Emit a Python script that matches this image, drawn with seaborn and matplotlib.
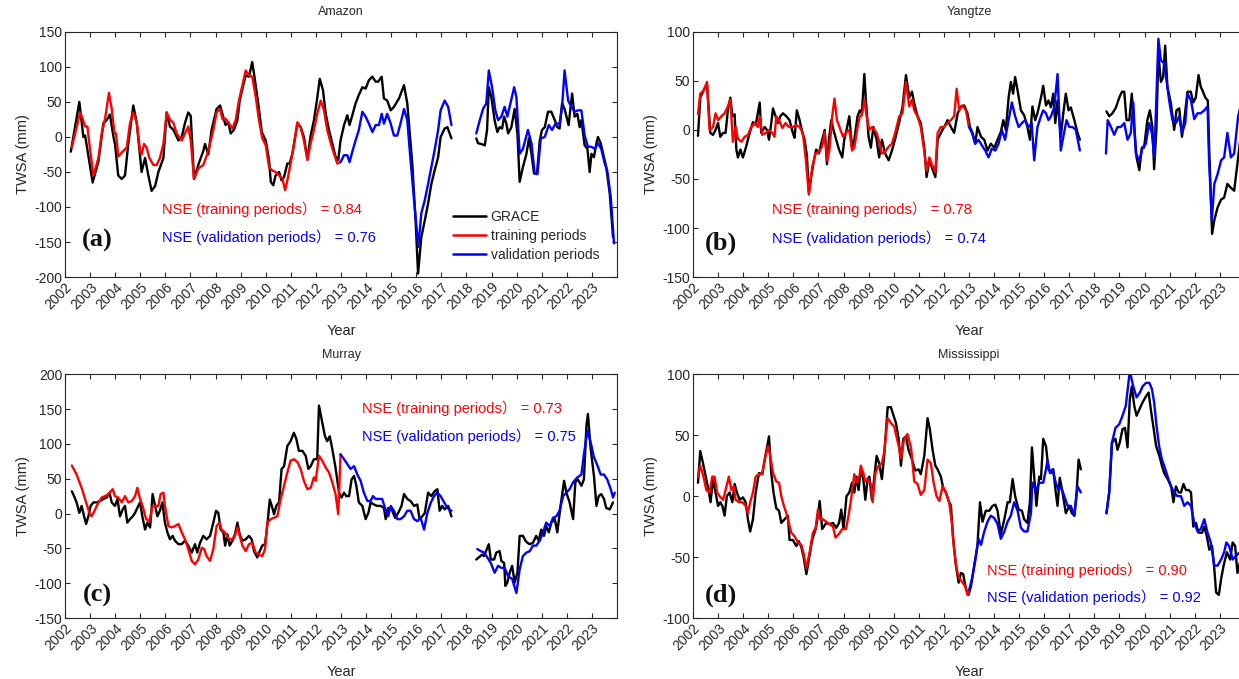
import matplotlib
matplotlib.use("Agg")
import matplotlib.pyplot as plt
from matplotlib.lines import Line2D
import pandas as pd
import seaborn as sns

# ---------------- data: decimal year, TWSA (mm) ----------------
amazon_grace_yr = [2002.23, 2002.57, 2002.73, 2002.80, 2003.10, 2003.33, 2003.53, 2003.66, 2003.79, 2003.93, 2003.99, 2004.12, 2004.26, 2004.39, 2004.52, 2004.72, 2004.86, 2005.05, 2005.19, 2005.32, 2005.45, 2005.59, 2005.72, 2005.92, 2006.05, 2006.18, 2006.32, 2006.52, 2006.65, 2006.78, 2006.91, 2007.01, 2007.14, 2007.31, 2007.51, 2007.58, 2007.71, 2007.84, 2008.04, 2008.18, 2008.34, 2008.40, 2008.51, 2008.60, 2008.73, 2008.87, 2008.96, 2009.07, 2009.20, 2009.33, 2009.46, 2009.57, 2009.70, 2009.84, 2010.00, 2010.13, 2010.20, 2010.30, 2010.39, 2010.53, 2010.63, 2010.73, 2010.86, 2010.95, 2011.06, 2011.26, 2011.39, 2011.52, 2011.66, 2011.79, 2011.92, 2012.05, 2012.15, 2012.28, 2012.39, 2012.52, 2012.65, 2012.78, 2012.89, 2012.98, 2013.12, 2013.25, 2013.34, 2013.45, 2013.58, 2013.71, 2013.85, 2013.98, 2014.11, 2014.25, 2014.38, 2014.48, 2014.62, 2014.71, 2014.84, 2014.98, 2015.11, 2015.31, 2015.51, 2015.64, 2015.84, 2015.97, 2016.07, 2016.20, 2016.34, 2016.47, 2016.60, 2016.73, 2016.87, 2016.97, 2017.13, 2017.24, 2017.40,
                   2018.39, 2018.46, 2018.59, 2018.73, 2018.82, 2018.89, 2018.99, 2019.12, 2019.23, 2019.32, 2019.42, 2019.50, 2019.59, 2019.66, 2019.79, 2019.92, 2020.03, 2020.12, 2020.25, 2020.39, 2020.49, 2020.59, 2020.69, 2020.81, 2020.92, 2021.01, 2021.12, 2021.25, 2021.38, 2021.52, 2021.62, 2021.71, 2021.81, 2021.91, 2022.07, 2022.21, 2022.31, 2022.42, 2022.51, 2022.58, 2022.71, 2022.82, 2022.91, 2022.98, 2023.08, 2023.18, 2023.24, 2023.35, 2023.48, 2023.57, 2023.71, 2023.84]
amazon_grace_mm = [-21, 50, 0, 2, -65, -35, 20, 24, 32, 0, -10, -55, -60, -55, -10, 45, 20, -50, -30, -55, -77, -70, -50, -30, 35, 15, 10, -5, 0, 20, 35, 30, -60, -40, -20, -10, -25, 10, 40, 45, 24, 17, 21, 5, 10, 24, 52, 69, 88, 86, 107, 81, 48, 7, -5, -33, -64, -69, -55, -50, -62, -57, -38, -38, -24, 19, 14, 0, -31, 2, 24, 55, 83, 67, 33, 10, -9, -28, -33, -5, 17, 31, 17, 31, 48, 60, 71, 69, 81, 86, 79, 79, 86, 55, 52, 38, 43, 55, 74, 48, -38, -119, -195, -143, -119, -95, -67, -48, -29, 0, 12, 14, -2,
                   -2, -9, -10, -12, 10, 71, 57, 24, 7, 14, 12, 29, 19, 5, 14, 40, 5, -64, -43, -24, -2, -24, -52, -53, -5, 10, 14, 36, 36, 24, 14, 12, 48, 40, 17, 62, 29, 33, 14, 24, -12, -17, -50, -24, -29, -9, 0, -9, -29, -43, -81, -143]
amazon_train_yr = [2002.27, 2002.60, 2002.66, 2002.80, 2002.89, 2002.97, 2003.13, 2003.33, 2003.46, 2003.59, 2003.75, 2003.86, 2003.97, 2004.03, 2004.12, 2004.32, 2004.46, 2004.59, 2004.72, 2004.86, 2004.99, 2005.05, 2005.15, 2005.25, 2005.36, 2005.52, 2005.65, 2005.78, 2005.92, 2006.05, 2006.18, 2006.32, 2006.45, 2006.65, 2006.78, 2006.91, 2007.01, 2007.14, 2007.31, 2007.51, 2007.71, 2007.91, 2008.04, 2008.18, 2008.28, 2008.40, 2008.54, 2008.67, 2008.80, 2008.93, 2009.07, 2009.20, 2009.33, 2009.46, 2009.60, 2009.73, 2009.86, 2010.00, 2010.13, 2010.26, 2010.39, 2010.53, 2010.66, 2010.77, 2010.86, 2010.99, 2011.12, 2011.26, 2011.39, 2011.52, 2011.66, 2011.79, 2011.92, 2012.05, 2012.19, 2012.32, 2012.45, 2012.59, 2012.72, 2012.85, 2012.96]
amazon_train_mm = [-15, 35, 30, 15, 15, -10, -55, -30, 5, 25, 63, 40, 5, 5, -28, -20, -15, 20, 35, 20, -20, -25, -10, -15, -30, -40, -40, -30, -10, 35, 25, 20, 5, -5, 5, 15, -5, -60, -45, -40, -20, 10, 35, 40, 25, 26, 19, 12, 24, 52, 74, 95, 88, 86, 57, 24, -2, -12, -43, -48, -50, -55, -59, -76, -62, -38, -12, 21, 14, -5, -33, -9, 10, 33, 52, 38, 10, -9, -24, -38, -36]
amazon_valid_yr = [2012.98, 2013.12, 2013.25, 2013.34, 2013.45, 2013.58, 2013.71, 2013.85, 2013.98, 2014.11, 2014.25, 2014.38, 2014.51, 2014.62, 2014.71, 2014.84, 2014.98, 2015.11, 2015.24, 2015.37, 2015.51, 2015.64, 2015.77, 2015.91, 2016.08, 2016.20, 2016.34, 2016.47, 2016.60, 2016.73, 2016.87, 2016.97, 2017.13, 2017.27, 2017.40,
                   2018.39, 2018.53, 2018.66, 2018.79, 2018.89, 2019.02, 2019.15, 2019.26, 2019.39, 2019.52, 2019.63, 2019.72, 2019.90, 2019.99, 2020.12, 2020.25, 2020.45, 2020.59, 2020.72, 2020.83, 2020.96, 2021.12, 2021.28, 2021.41, 2021.55, 2021.71, 2021.81, 2021.91, 2022.05, 2022.18, 2022.31, 2022.44, 2022.58, 2022.71, 2022.84, 2022.98, 2023.11, 2023.24, 2023.37, 2023.51, 2023.61, 2023.75, 2023.88]
amazon_valid_mm = [-36, -26, -26, -36, -21, -5, 10, 36, 29, 19, 7, 17, 17, 33, 19, 33, 19, 2, 2, 19, 40, 24, -33, -90, -157, -109, -90, -67, -43, -19, 10, 38, 52, 43, 17,
                   5, 24, 40, 48, 95, 71, 38, 24, 29, 43, 29, 43, 71, 57, -24, -17, 10, -9, -52, -53, -2, 0, 17, 10, 19, 19, 43, 95, 52, 43, 36, 38, 38, 2, -14, -14, -17, -9, -17, -38, -48, -86, -152]

yangtze_grace_yr = [2002.20, 2002.29, 2002.42, 2002.56, 2002.69, 2002.80, 2002.90, 2003.00, 2003.09, 2003.20, 2003.30, 2003.39, 2003.49, 2003.57, 2003.66, 2003.73, 2003.79, 2003.89, 2003.99, 2004.12, 2004.26, 2004.39, 2004.50, 2004.66, 2004.72, 2004.86, 2004.95, 2005.03, 2005.12, 2005.19, 2005.29, 2005.39, 2005.48, 2005.59, 2005.72, 2005.85, 2005.98, 2006.05, 2006.14, 2006.25, 2006.36, 2006.45, 2006.54, 2006.62, 2006.71, 2006.82, 2006.91, 2007.02, 2007.11, 2007.25, 2007.34, 2007.42, 2007.51, 2007.60, 2007.71, 2007.82, 2007.95, 2008.03, 2008.12, 2008.23, 2008.34, 2008.43, 2008.56, 2008.65, 2008.73, 2008.83, 2008.89, 2009.00, 2009.09, 2009.19, 2009.32, 2009.42, 2009.53, 2009.66, 2009.80, 2009.93, 2010.06, 2010.22, 2010.35, 2010.49, 2010.62, 2010.73, 2010.82, 2010.95, 2011.08, 2011.22, 2011.31, 2011.42, 2011.52, 2011.66, 2011.75, 2011.88, 2012.01, 2012.15, 2012.28, 2012.41, 2012.55, 2012.68, 2012.81, 2012.94, 2013.04, 2013.14, 2013.25, 2013.34, 2013.48, 2013.61, 2013.74, 2013.87, 2014.01, 2014.14, 2014.27, 2014.37, 2014.47, 2014.58, 2014.67, 2014.76, 2014.84, 2014.94, 2015.07, 2015.20, 2015.33, 2015.43, 2015.53, 2015.64, 2015.73, 2015.87, 2015.96, 2016.07, 2016.17, 2016.27, 2016.36, 2016.44, 2016.53, 2016.66, 2016.76, 2016.86, 2016.97, 2017.06, 2017.20, 2017.33, 2017.42,
                    2018.48, 2018.59, 2018.72, 2018.86, 2018.99, 2019.10, 2019.19, 2019.28, 2019.39, 2019.49, 2019.59, 2019.68, 2019.79, 2019.89, 2019.98, 2020.11, 2020.21, 2020.31, 2020.38, 2020.47, 2020.55, 2020.65, 2020.74, 2020.82, 2020.91, 2021.05, 2021.18, 2021.27, 2021.38, 2021.49, 2021.58, 2021.71, 2021.84, 2021.94, 2022.04, 2022.15, 2022.24, 2022.31, 2022.42, 2022.52, 2022.58, 2022.69, 2022.78, 2022.91, 2023.05, 2023.17, 2023.30, 2023.44, 2023.57, 2023.73, 2023.88]
yangtze_grace_mm = [-6, 33, 40, 47, -3, -5, 0, 7, -7, -3, -3, 20, 33, 14, 16, -20, -28, -20, -28, -17, -3, 8, 5, 28, -3, 3, 0, -10, 7, 22, 14, 7, 14, 17, 14, 10, -3, -8, 20, 10, -3, -10, -26, -64, -48, -31, -20, -24, -14, 0, -35, -10, 10, 0, -10, -20, -28, -10, 0, 14, -18, -10, 14, 20, 17, 57, 31, -7, -18, 3, -10, -28, -10, -24, -31, -21, -9, 8, 23, 56, 33, 39, 27, 14, 7, -18, -48, -31, -38, -48, -10, -3, 3, 10, 3, -3, 17, 24, 25, 17, 3, -3, -14, 3, -7, -10, -21, -14, -18, -10, -2, 10, 0, 33, 49, 37, 54, 40, 20, 15, 3, -10, 24, 10, 17, 33, 45, 25, 30, 23, 37, 7, 30, -7, 17, 37, 20, 23, 10, -3, -10,
                    19, 14, 17, 23, 33, 39, 39, 10, 10, 37, 0, -28, -41, -18, -18, 10, 20, 3, -40, 0, 78, 49, 54, 86, 44, 27, 0, 20, 22, -7, 10, 39, 39, 28, 33, 56, 44, 40, 33, 30, -24, -106, -92, -79, -71, -69, -55, -59, -62, -28, 5]
yangtze_train_yr = [2002.20, 2002.29, 2002.42, 2002.56, 2002.66, 2002.80, 2002.90, 2003.00, 2003.13, 2003.26, 2003.39, 2003.49, 2003.59, 2003.70, 2003.79, 2003.93, 2004.06, 2004.19, 2004.32, 2004.46, 2004.59, 2004.66, 2004.76, 2004.90, 2005.03, 2005.16, 2005.25, 2005.32, 2005.43, 2005.56, 2005.69, 2005.82, 2005.98, 2006.12, 2006.25, 2006.38, 2006.49, 2006.62, 2006.75, 2006.89, 2007.02, 2007.15, 2007.25, 2007.35, 2007.44, 2007.55, 2007.64, 2007.74, 2007.84, 2007.98, 2008.03, 2008.12, 2008.23, 2008.34, 2008.43, 2008.56, 2008.65, 2008.73, 2008.84, 2008.92, 2009.03, 2009.13, 2009.23, 2009.32, 2009.42, 2009.53, 2009.66, 2009.80, 2009.93, 2010.06, 2010.22, 2010.35, 2010.49, 2010.62, 2010.73, 2010.82, 2010.95, 2011.08, 2011.22, 2011.31, 2011.42, 2011.52, 2011.66, 2011.75, 2011.88, 2012.01, 2012.15, 2012.28, 2012.41, 2012.51, 2012.61, 2012.74, 2012.88, 2013.00]
yangtze_train_mm = [16, 37, 40, 49, 0, 3, 17, 10, 14, 17, 24, 31, -12, 3, -9, -12, -7, -5, 3, 7, 3, 14, -5, -3, 0, -3, -7, 14, 10, 2, 7, 3, 3, 5, 3, -3, -28, -66, -38, -24, -22, -17, -2, -31, -20, 14, 32, 10, 3, -7, -5, -2, 0, -21, -18, 3, 14, 15, 31, 14, 0, 3, 0, -3, -12, -24, -22, -17, -14, -3, 14, 17, 49, 24, 31, 20, 14, 3, -22, -42, -28, -35, -43, -3, 3, 3, 7, 10, 14, 42, 20, 25, 20, 3]
yangtze_valid_yr = [2013.00, 2013.12, 2013.25, 2013.38, 2013.52, 2013.65, 2013.78, 2013.91, 2014.05, 2014.18, 2014.31, 2014.44, 2014.58, 2014.71, 2014.84, 2014.98, 2015.11, 2015.24, 2015.37, 2015.50, 2015.60, 2015.73, 2015.87, 2015.96, 2016.07, 2016.17, 2016.27, 2016.40, 2016.53, 2016.66, 2016.76, 2016.89, 2017.00, 2017.13, 2017.26, 2017.42,
                    2018.46, 2018.53, 2018.66, 2018.79, 2018.92, 2019.05, 2019.19, 2019.32, 2019.45, 2019.55, 2019.65, 2019.79, 2019.92, 2020.05, 2020.18, 2020.29, 2020.39, 2020.47, 2020.55, 2020.65, 2020.78, 2020.87, 2020.98, 2021.11, 2021.25, 2021.38, 2021.49, 2021.62, 2021.71, 2021.85, 2021.98, 2022.11, 2022.24, 2022.38, 2022.51, 2022.57, 2022.68, 2022.78, 2022.91, 2023.05, 2023.17, 2023.30, 2023.44, 2023.57, 2023.73, 2023.88]
yangtze_valid_mm = [3, -3, -14, -10, -16, -21, -28, -19, -21, -14, 0, -10, 10, 28, 14, 3, 7, 10, 3, 7, -31, 3, 14, 20, 17, 10, 14, 23, 57, -21, -7, 10, 3, 3, 0, -21,
                    -24, 10, 3, -5, 3, 3, 7, -10, -3, 28, -24, -31, -18, -14, 7, -3, -28, 33, 93, 71, 68, 51, 30, 10, 7, 14, -3, 7, 37, 30, 11, 17, 17, 20, 24, -31, -92, -55, -45, -31, -28, -3, -28, -24, 14, 30]

murray_grace_yr = [2002.27, 2002.36, 2002.46, 2002.57, 2002.66, 2002.76, 2002.84, 2002.93, 2003.02, 2003.13, 2003.26, 2003.39, 2003.53, 2003.66, 2003.77, 2003.86, 2003.99, 2004.09, 2004.19, 2004.30, 2004.39, 2004.48, 2004.59, 2004.70, 2004.79, 2004.88, 2004.99, 2005.09, 2005.19, 2005.28, 2005.39, 2005.49, 2005.59, 2005.68, 2005.78, 2005.88, 2005.98, 2006.08, 2006.18, 2006.29, 2006.38, 2006.52, 2006.65, 2006.78, 2006.91, 2007.05, 2007.18, 2007.27, 2007.38, 2007.51, 2007.64, 2007.78, 2007.91, 2008.02, 2008.11, 2008.20, 2008.31, 2008.38, 2008.47, 2008.56, 2008.67, 2008.77, 2008.87, 2008.96, 2009.07, 2009.20, 2009.33, 2009.44, 2009.53, 2009.66, 2009.76, 2009.86, 2009.97, 2010.06, 2010.16, 2010.24, 2010.33, 2010.42, 2010.53, 2010.63, 2010.73, 2010.86, 2010.99, 2011.12, 2011.22, 2011.32, 2011.46, 2011.59, 2011.70, 2011.79, 2011.92, 2012.05, 2012.12, 2012.23, 2012.36, 2012.45, 2012.55, 2012.65, 2012.78, 2012.92, 2013.02, 2013.12, 2013.21, 2013.32, 2013.42, 2013.52, 2013.61, 2013.71, 2013.85, 2013.98, 2014.09, 2014.18, 2014.31, 2014.44, 2014.58, 2014.71, 2014.78, 2014.88, 2015.02, 2015.15, 2015.28, 2015.41, 2015.51, 2015.64, 2015.77, 2015.91, 2016.04, 2016.13, 2016.24, 2016.34, 2016.47, 2016.60, 2016.73, 2016.84, 2016.93, 2017.03, 2017.13, 2017.27, 2017.40,
                   2018.39, 2018.49, 2018.62, 2018.70, 2018.89, 2018.97, 2019.10, 2019.19, 2019.32, 2019.39, 2019.50, 2019.55, 2019.63, 2019.72, 2019.82, 2019.92, 2020.03, 2020.12, 2020.25, 2020.35, 2020.43, 2020.52, 2020.65, 2020.78, 2020.88, 2020.98, 2021.09, 2021.18, 2021.28, 2021.38, 2021.52, 2021.62, 2021.75, 2021.89, 2021.98, 2022.11, 2022.25, 2022.34, 2022.44, 2022.58, 2022.68, 2022.78, 2022.84, 2022.95, 2023.08, 2023.18, 2023.27, 2023.37, 2023.48, 2023.57, 2023.71, 2023.84]
murray_grace_mm = [32, 25, 16, 1, 11, -4, -15, -4, 11, 16, 16, 18, 21, 23, 30, 16, 11, 21, -4, 6, 11, -13, -8, -4, 1, 8, 16, -6, -23, -13, -20, 28, 11, -4, 4, 16, -13, -27, -37, -32, -39, -44, -44, -39, -46, -56, -44, -56, -42, -32, -37, -32, -13, 4, 1, -23, -27, -46, -30, -46, -39, -30, -13, -30, -39, -37, -32, -37, -54, -63, -54, -46, -44, -18, 20, 11, -1, 11, 16, 64, 68, 97, 104, 116, 107, 90, 90, 83, 64, 68, 78, 78, 155, 135, 111, 104, 111, 93, 66, 30, 23, 30, 25, 25, 49, 54, 40, 16, 11, -8, 1, 16, 13, 11, 11, 8, -8, 8, 6, -6, 1, 11, 28, 21, 18, 11, 13, -8, -4, 1, 30, 25, 32, 35, 4, 11, 6, 11, -4,
                   -66, -63, -59, -61, -44, -66, -66, -56, -54, -68, -71, -104, -99, -85, -75, -99, -85, -32, -32, -39, -42, -44, -42, -32, -39, -23, -32, -18, -27, -13, -8, -27, 11, 47, 30, 16, -8, 45, 49, 40, 49, 126, 143, 93, 54, 11, 25, 28, 21, 8, 6, 16]
murray_train_yr = [2002.27, 2002.46, 2002.66, 2002.84, 2002.97, 2003.06, 2003.20, 2003.33, 2003.46, 2003.59, 2003.73, 2003.90, 2003.99, 2004.12, 2004.26, 2004.39, 2004.52, 2004.66, 2004.79, 2004.88, 2004.99, 2005.09, 2005.23, 2005.36, 2005.49, 2005.59, 2005.72, 2005.81, 2005.92, 2005.98, 2006.12, 2006.25, 2006.38, 2006.52, 2006.65, 2006.78, 2006.91, 2007.05, 2007.18, 2007.31, 2007.45, 2007.54, 2007.64, 2007.78, 2007.91, 2008.04, 2008.15, 2008.24, 2008.37, 2008.54, 2008.67, 2008.77, 2008.87, 2008.96, 2009.07, 2009.20, 2009.33, 2009.46, 2009.60, 2009.73, 2009.86, 2009.97, 2010.06, 2010.20, 2010.33, 2010.46, 2010.59, 2010.73, 2010.86, 2010.99, 2011.12, 2011.26, 2011.39, 2011.52, 2011.66, 2011.79, 2011.92, 2011.99, 2012.12, 2012.25, 2012.39, 2012.52, 2012.65, 2012.78, 2012.89, 2012.98]
murray_train_mm = [69, 56, 37, 16, 1, -4, 6, 16, 23, 25, 28, 35, 25, 23, 16, 25, 16, 18, 25, 37, 21, 11, -8, -11, 11, 11, 11, 28, 30, 11, -18, -20, -18, -15, -27, -37, -51, -68, -73, -66, -49, -51, -61, -68, -51, -18, -13, -23, -27, -37, -37, -32, -20, -32, -46, -54, -44, -42, -56, -59, -61, -51, -13, -8, -6, -4, 20, 40, 59, 76, 78, 74, 64, 47, 35, 37, 52, 47, 83, 76, 66, 59, 45, 28, -1, 85]
murray_valid_yr = [2012.98, 2013.12, 2013.25, 2013.38, 2013.52, 2013.65, 2013.78, 2013.91, 2014.05, 2014.18, 2014.27, 2014.38, 2014.51, 2014.64, 2014.75, 2014.88, 2014.98, 2015.11, 2015.24, 2015.37, 2015.51, 2015.64, 2015.77, 2015.91, 2016.04, 2016.17, 2016.31, 2016.44, 2016.58, 2016.71, 2016.84, 2016.97, 2017.11, 2017.24, 2017.40,
                   2018.43, 2018.57, 2018.70, 2018.83, 2018.97, 2019.12, 2019.26, 2019.39, 2019.52, 2019.66, 2019.82, 2019.99, 2020.12, 2020.25, 2020.39, 2020.52, 2020.65, 2020.78, 2020.92, 2021.05, 2021.18, 2021.32, 2021.45, 2021.58, 2021.71, 2021.85, 2021.98, 2022.11, 2022.25, 2022.42, 2022.58, 2022.68, 2022.82, 2022.95, 2023.08, 2023.22, 2023.35, 2023.48, 2023.61, 2023.75, 2023.84, 2023.91]
murray_valid_mm = [85, 78, 71, 64, 68, 56, 47, 30, 18, 18, 25, 21, 21, 21, 8, -4, 11, 4, -8, -8, -4, 4, 4, -8, -11, -6, -23, 1, 16, 25, 30, 25, 16, 8, 4,
                   -51, -54, -56, -63, -71, -85, -75, -78, -78, -90, -94, -114, -80, -61, -56, -54, -46, -46, -39, -27, -13, -18, -6, -4, 4, 25, 30, 35, 45, 52, 56, 85, 119, 102, 81, 69, 56, 56, 49, 35, 23, 30]

mississippi_grace_yr = [2002.20, 2002.29, 2002.40, 2002.53, 2002.64, 2002.70, 2002.80, 2002.90, 2003.00, 2003.09, 2003.17, 2003.26, 2003.35, 2003.46, 2003.57, 2003.66, 2003.75, 2003.86, 2003.99, 2004.10, 2004.19, 2004.28, 2004.39, 2004.50, 2004.63, 2004.76, 2004.86, 2004.95, 2005.03, 2005.12, 2005.21, 2005.32, 2005.43, 2005.52, 2005.65, 2005.78, 2005.85, 2005.98, 2006.12, 2006.22, 2006.32, 2006.41, 2006.52, 2006.62, 2006.75, 2006.89, 2006.98, 2007.05, 2007.15, 2007.31, 2007.44, 2007.58, 2007.71, 2007.82, 2007.91, 2008.00, 2008.12, 2008.23, 2008.34, 2008.43, 2008.52, 2008.60, 2008.69, 2008.79, 2008.87, 2008.96, 2009.03, 2009.13, 2009.23, 2009.32, 2009.42, 2009.53, 2009.62, 2009.76, 2009.89, 2009.98, 2010.09, 2010.20, 2010.29, 2010.38, 2010.49, 2010.59, 2010.73, 2010.86, 2010.99, 2011.08, 2011.22, 2011.35, 2011.44, 2011.55, 2011.66, 2011.75, 2011.88, 2011.97, 2012.08, 2012.19, 2012.28, 2012.37, 2012.48, 2012.59, 2012.68, 2012.77, 2012.88, 2012.98, 2013.08, 2013.21, 2013.34, 2013.44, 2013.54, 2013.67, 2013.81, 2013.94, 2014.05, 2014.14, 2014.27, 2014.41, 2014.54, 2014.63, 2014.74, 2014.84, 2014.98, 2015.11, 2015.20, 2015.33, 2015.43, 2015.51, 2015.60, 2015.69, 2015.80, 2015.87, 2015.96, 2016.07, 2016.17, 2016.27, 2016.36, 2016.46, 2016.53, 2016.62, 2016.73, 2016.86, 2017.00, 2017.10, 2017.20, 2017.29, 2017.37, 2017.46,
                        2018.48, 2018.59, 2018.70, 2018.84, 2018.92, 2019.01, 2019.12, 2019.22, 2019.32, 2019.41, 2019.49, 2019.59, 2019.68, 2019.79, 2019.92, 2020.06, 2020.16, 2020.25, 2020.35, 2020.46, 2020.59, 2020.69, 2020.78, 2020.92, 2021.06, 2021.15, 2021.25, 2021.36, 2021.45, 2021.55, 2021.65, 2021.76, 2021.85, 2021.94, 2022.05, 2022.15, 2022.29, 2022.38, 2022.48, 2022.58, 2022.69, 2022.78, 2022.85, 2022.96, 2023.05, 2023.15, 2023.28, 2023.41, 2023.51, 2023.61, 2023.70, 2023.85]
mississippi_grace_mm = [11, 37, 27, 14, 3, -5, 14, 3, -8, -5, -8, -16, 0, 3, -5, 10, 3, -3, -1, -5, -19, -29, -19, 3, 19, 18, 30, 40, 49, 19, 3, -10, -12, -22, -19, -16, -36, -36, -41, -37, -42, -50, -64, -52, -36, -27, -16, -4, -27, -22, -23, -22, -26, -22, -11, -27, 0, 3, 11, 3, 16, 5, 22, 14, -3, 14, 16, -3, 16, 33, 27, 14, 33, 73, 73, 67, 60, 47, 25, 47, 49, 38, 30, 21, 22, 18, 33, 64, 55, 38, 25, 22, 16, 7, 3, -4, -8, -35, -57, -71, -63, -64, -76, -81, -74, -57, -40, -5, -21, -12, -12, -8, -7, -12, -31, -19, -5, -5, 14, 0, -11, -12, -19, -22, -5, 40, 16, -8, 16, 14, 47, 41, 22, 19, 22, 3, -8, 15, 3, -14, -8, -14, -16, 3, 30, 22,
                        -14, 3, 44, 47, 38, 44, 55, 56, 40, 79, 90, 74, 66, 71, 77, 82, 85, 71, 57, 41, 33, 25, 19, 14, 8, -5, 8, 3, 3, 10, 5, 5, 3, -25, -22, -30, -30, -25, -33, -44, -41, -60, -79, -81, -68, -57, -46, -52, -38, -41, -63, -50]
mississippi_train_yr = [2002.20, 2002.29, 2002.42, 2002.53, 2002.66, 2002.77, 2002.86, 2002.96, 2003.06, 2003.20, 2003.30, 2003.43, 2003.53, 2003.62, 2003.70, 2003.83, 2003.97, 2004.10, 2004.19, 2004.28, 2004.39, 2004.50, 2004.63, 2004.76, 2004.86, 2004.99, 2005.08, 2005.19, 2005.32, 2005.43, 2005.52, 2005.61, 2005.72, 2005.82, 2005.92, 2006.05, 2006.18, 2006.32, 2006.41, 2006.52, 2006.65, 2006.78, 2006.89, 2006.98, 2007.07, 2007.18, 2007.31, 2007.44, 2007.58, 2007.68, 2007.82, 2007.95, 2008.10, 2008.20, 2008.30, 2008.43, 2008.52, 2008.63, 2008.69, 2008.79, 2008.87, 2008.96, 2009.09, 2009.16, 2009.27, 2009.40, 2009.53, 2009.62, 2009.76, 2009.89, 2010.02, 2010.20, 2010.29, 2010.42, 2010.55, 2010.69, 2010.82, 2010.95, 2011.08, 2011.22, 2011.35, 2011.48, 2011.59, 2011.71, 2011.82, 2011.95, 2012.08, 2012.21, 2012.32, 2012.41, 2012.51, 2012.61, 2012.71, 2012.85, 2012.94, 2013.01]
mississippi_train_mm = [16, 25, 16, 5, 3, 16, 16, 3, 0, -3, 5, 16, 5, 8, -3, -5, -5, -8, -14, -5, 3, 16, 18, 18, 30, 41, 33, 19, 12, 11, 0, -7, -14, -22, -30, -33, -38, -40, -47, -59, -46, -30, -26, -11, -19, -19, -21, -23, -25, -34, -31, -27, -27, -16, -3, 18, 11, 16, 25, 19, 12, 14, 10, -5, 19, 25, 27, 36, 64, 60, 57, 41, 31, 47, 51, 40, 12, 10, 1, 5, 30, 27, 11, 0, -4, 8, 3, -5, -22, -44, -60, -67, -70, -74, -81, -77]
mississippi_valid_yr = [2013.01, 2013.14, 2013.28, 2013.38, 2013.48, 2013.61, 2013.74, 2013.87, 2014.01, 2014.14, 2014.27, 2014.41, 2014.54, 2014.67, 2014.80, 2014.94, 2015.07, 2015.20, 2015.33, 2015.47, 2015.53, 2015.67, 2015.80, 2015.96, 2016.07, 2016.13, 2016.23, 2016.33, 2016.46, 2016.57, 2016.66, 2016.80, 2016.93, 2017.06, 2017.20, 2017.33, 2017.46,
                        2018.48, 2018.59, 2018.70, 2018.84, 2018.99, 2019.12, 2019.25, 2019.39, 2019.45, 2019.55, 2019.68, 2019.81, 2019.92, 2020.06, 2020.19, 2020.29, 2020.38, 2020.48, 2020.58, 2020.69, 2020.78, 2020.92, 2021.05, 2021.18, 2021.31, 2021.45, 2021.58, 2021.71, 2021.85, 2021.98, 2022.11, 2022.24, 2022.38, 2022.51, 2022.64, 2022.78, 2022.91, 2023.05, 2023.17, 2023.26, 2023.37, 2023.51, 2023.64, 2023.85]
mississippi_valid_mm = [-77, -66, -49, -35, -40, -29, -21, -16, -18, -23, -35, -29, -21, -16, -5, -12, -26, -29, -29, -14, 11, 5, 11, 11, 22, 29, 19, 22, 11, 5, 8, 0, -8, -8, -16, 8, 3,
                        -14, 3, 44, 56, 59, 66, 74, 99, 99, 90, 81, 85, 90, 93, 93, 88, 77, 57, 41, 30, 25, 16, 8, 3, 0, 0, -8, -5, -8, -22, -29, -27, -19, -30, -38, -57, -57, -52, -46, -38, -41, -52, -49, -45]

SERIES = ["GRACE", "training periods", "validation periods"]
PALETTE = {"GRACE": "#000000", "training periods": "#ff0000", "validation periods": "#0000ff"}
INK = "#262626"
CJK_FALLBACK = ["Liberation Sans", "Noto Sans CJK SC"]


def long_frame(grace_yr, grace_mm, train_yr, train_mm, valid_yr, valid_mm):
    """Tidy table; 'segment' splits each series at the 2017-2018 data gap."""
    rows = []
    for name, yrs, vals in ((SERIES[0], grace_yr, grace_mm),
                            (SERIES[1], train_yr, train_mm),
                            (SERIES[2], valid_yr, valid_mm)):
        for yr, mm in zip(yrs, vals):
            rows.append((yr, mm, name, int(yr > 2018)))
    return pd.DataFrame(rows, columns=["year", "twsa", "series", "segment"])


panels = [
    dict(title="Amazon", rect=[0.0525, 0.592, 0.4455, 0.361],
         df=long_frame(amazon_grace_yr, amazon_grace_mm, amazon_train_yr, amazon_train_mm, amazon_valid_yr, amazon_valid_mm),
         ylim=(-200, 150), letter="(a)", letter_xy=(0.058, 0.15),
         nse=("0.84", "0.76"), nse_xy=(0.176, 0.278, 0.163), legend=True),
    dict(title="Yangtze", rect=[0.5593, 0.592, 0.4455, 0.361],
         df=long_frame(yangtze_grace_yr, yangtze_grace_mm, yangtze_train_yr, yangtze_train_mm, yangtze_valid_yr, yangtze_valid_mm),
         ylim=(-150, 100), letter="(b)", letter_xy=(0.051, 0.139),
         nse=("0.78", "0.74"), nse_xy=(0.143, 0.275, 0.16), legend=False),
    dict(title="Murray", rect=[0.0525, 0.0898, 0.4455, 0.359],
         df=long_frame(murray_grace_yr, murray_grace_mm, murray_train_yr, murray_train_mm, murray_valid_yr, murray_valid_mm),
         ylim=(-150, 200), letter="(c)", letter_xy=(0.058, 0.094),
         nse=("0.73", "0.75"), nse_xy=(0.538, 0.861, 0.746), legend=False),
    dict(title="Mississippi", rect=[0.5593, 0.0898, 0.4455, 0.359],
         df=long_frame(mississippi_grace_yr, mississippi_grace_mm, mississippi_train_yr, mississippi_train_mm, mississippi_valid_yr, mississippi_valid_mm),
         ylim=(-100, 100), letter="(d)", letter_xy=(0.051, 0.094),
         nse=("0.90", "0.92"), nse_xy=(0.533, 0.197, 0.086), legend=False),
]

sns.set_style("ticks", rc={
    "xtick.direction": "in", "ytick.direction": "in",
    "xtick.top": True, "ytick.right": True,
    "axes.edgecolor": INK, "axes.linewidth": 1.0,
    "xtick.color": INK, "ytick.color": INK,
    "axes.labelcolor": INK, "text.color": INK,
})
plt.rcParams["font.family"] = CJK_FALLBACK
plt.rcParams["axes.unicode_minus"] = False
plt.rcParams["xtick.major.size"] = 3.5
plt.rcParams["ytick.major.size"] = 3.5
plt.rcParams["xtick.labelsize"] = 10
plt.rcParams["ytick.labelsize"] = 10

fig = plt.figure(figsize=(12.39, 6.79), dpi=100)
years = list(range(2002, 2024))

for p in panels:
    ax = fig.add_axes(p["rect"])
    sns.lineplot(data=p["df"], x="year", y="twsa", hue="series", hue_order=SERIES,
                 palette=PALETTE, units="segment", estimator=None, lw=1.7,
                 legend=False, ax=ax)
    ax.set_xlim(2002, 2024)
    ax.set_ylim(*p["ylim"])
    ax.set_yticks(range(p["ylim"][0], p["ylim"][1] + 1, 50))
    ax.set_xticks(years)
    ax.set_xticklabels([str(y) for y in years], rotation=45, ha="right",
                       rotation_mode="anchor")
    ax.tick_params(axis="x", pad=2)
    ax.tick_params(axis="y", pad=2)
    ax.set_xlabel("Year", fontsize=10.5, labelpad=9)
    ax.set_ylabel("TWSA (mm)", fontsize=10.5, labelpad=3)
    ax.set_title(p["title"], fontsize=9, pad=12, color=INK)
    for side in ax.spines.values():
        side.set_visible(True)

    ax.text(*p["letter_xy"], p["letter"], transform=ax.transAxes, ha="center",
            va="center", fontsize=19, fontweight="bold",
            family="Liberation Serif", color="#111111")

    x0, y_red, y_blue = p["nse_xy"]
    ax.text(x0, y_red, f"NSE (training periods） = {p['nse'][0]}",
            transform=ax.transAxes, color="#ff0000", fontsize=10.5,
            va="center", ha="left", family=CJK_FALLBACK)
    ax.text(x0, y_blue, f"NSE (validation periods） = {p['nse'][1]}",
            transform=ax.transAxes, color="#0000ff", fontsize=10.5,
            va="center", ha="left", family=CJK_FALLBACK)

    if p["legend"]:
        handles = [Line2D([], [], color=PALETTE[s], lw=1.8) for s in SERIES]
        ax.legend(handles, SERIES, loc="upper left", bbox_to_anchor=(0.703, 0.275),
                  frameon=False, fontsize=10, handlelength=2.4, handletextpad=0.3,
                  labelspacing=0.36, borderpad=0, borderaxespad=0)

fig.savefig("out.png", dpi=100)
